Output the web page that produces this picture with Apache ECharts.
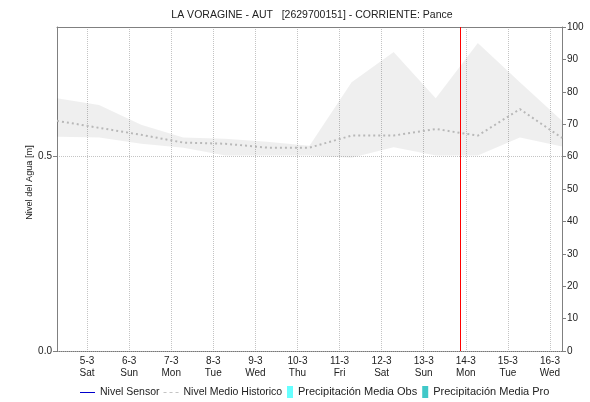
<!DOCTYPE html>
<html><head><meta charset="utf-8">
<script src="https://cdn.jsdelivr.net/npm/echarts@6/dist/echarts.min.js"></script>
<style>html,body{margin:0;padding:0;background:#fff}#c{width:590px;height:402px}</style>
</head><body><div id="c"></div>
<script>
// x ticks: one per day, value = days since 5-3 00:00
const tickLabels = ['5-3\nSat','6-3\nSun','7-3\nMon','8-3\nTue','9-3\nWed','10-3\nThu','11-3\nFri','12-3\nSat','13-3\nSun','14-3\nMon','15-3\nTue','16-3\nWed'];
// sample times of the historic series, in days since 5-3 00:00
const sampleDays = [-0.714, 0.286, 1.286, 2.286, 3.286, 4.286, 5.286, 6.286, 7.286, 8.286, 9.286, 10.286, 11.286];
const histMax  = [0.650, 0.633, 0.582, 0.549, 0.546, 0.538, 0.528, 0.691, 0.769, 0.650, 0.792, 0.691, 0.592];
const histMin  = [0.551, 0.549, 0.533, 0.523, 0.503, 0.503, 0.503, 0.497, 0.524, 0.503, 0.503, 0.549, 0.526];
const histMean = [0.592, 0.574, 0.556, 0.536, 0.533, 0.523, 0.523, 0.554, 0.554, 0.571, 0.554, 0.622, 0.548];
const nowDay = 8.881;
const sensorLevel = [];
const precipObs = [];
const precipPro = [];
const axisMin = -0.714, axisMax = 11.286;

const pairs = (ys) => sampleDays.map((d, i) => [d, ys[i]]);
const bandRows = sampleDays.map((d, i) => [d, histMin[i], histMax[i]]);
const FONT = 'Liberation Sans';

const chart = echarts.init(document.getElementById('c'));
chart.setOption({
  animation: false,
  textStyle: { fontFamily: FONT },
  title: {
    text: 'LA VORAGINE - AUT   [2629700151] - CORRIENTE: Pance',
    left: 307, top: 5, textAlign: 'center',
    textStyle: { fontFamily: FONT, fontSize: 10.5, fontWeight: 'normal', color: '#222' }
  },
  legend: [
    {
      left: 80, top: 387, padding: 0, itemWidth: 15, itemHeight: 10, itemGap: 4,
      data: [
        { name: 'Nivel Sensor', icon: 'path://M0,4.5h15v1h-15z' },
        { name: 'Nivel Medio Historico', icon: 'path://M0,4.5h3v1h-3zM6,4.5h3v1h-3zM12,4.5h3v1h-3z' }
      ],
      textStyle: { fontFamily: FONT, fontSize: 10.5, color: '#222' }
    },
    {
      left: 287, top: 386, padding: 0, itemWidth: 6, itemHeight: 12, itemGap: 5,
      icon: 'rect',
      data: ['Precipitación Media Obs', 'Precipitación Media Pro'],
      textStyle: { fontFamily: FONT, fontSize: 11, color: '#222' }
    }
  ],
  grid: { left: 57, right: 28, top: 27, bottom: 51, containLabel: false, outerBoundsMode: 'none' },
  xAxis: [
    {
      type: 'value', min: axisMin, max: axisMax, splitNumber: 12, minInterval: 1, maxInterval: 1,
      axisLine: { show: true, onZero: false, lineStyle: { color: '#777', type: 'dotted', width: 1 } },
      axisTick: { show: false },
      splitLine: { show: true, lineStyle: { color: '#c4c4c4', type: 'dotted', width: 1 } },
      axisLabel: {
        showMinLabel: false, showMaxLabel: false, margin: 4, lineHeight: 12,
        fontFamily: FONT, fontSize: 10, color: '#222',
        formatter: (v) => {
          const r = Math.round(v);
          return Math.abs(v - r) < 1e-6 && tickLabels[r] !== undefined ? tickLabels[r] : '';
        }
      }
    },
    {
      type: 'value', position: 'top', min: axisMin, max: axisMax,
      axisLine: { show: true, onZero: false, lineStyle: { color: '#808080', width: 1 } },
      axisTick: { show: false }, axisLabel: { show: false }, splitLine: { show: false }
    }
  ],
  yAxis: [
    {
      type: 'value', min: 0, max: 0.8333, interval: 0.5,
      name: 'Nivel del Agua [m]', nameLocation: 'middle', nameGap: 23, nameRotate: 90,
      nameMoveOverlap: false,
      nameTextStyle: { fontFamily: FONT, fontSize: 9.2, color: '#222', padding: [0, 0, 0, 13] },
      axisLine: { show: true, onZero: false, lineStyle: { color: '#808080' } },
      axisTick: { show: true, length: 4, lineStyle: { color: '#808080' } },
      splitLine: { show: true, lineStyle: { color: '#c4c4c4', type: 'dotted' } },
      axisLabel: {
        showMaxLabel: false, margin: 5, fontFamily: FONT, fontSize: 10, color: '#222',
        formatter: (v) => v.toFixed(1)
      }
    },
    {
      type: 'value', min: 0, max: 100, interval: 10, position: 'right',
      name: 'Precipitación [mm]', nameLocation: 'middle', nameGap: 28, nameRotate: -90,
      nameMoveOverlap: false,
      nameTextStyle: { fontFamily: FONT, fontSize: 10, color: '#222' },
      axisLine: { show: true, onZero: false, lineStyle: { color: '#808080' } },
      axisTick: { show: true, length: 4, lineStyle: { color: '#808080' } },
      splitLine: { show: false },
      axisLabel: { margin: 5, fontFamily: FONT, fontSize: 10, color: '#222' }
    }
  ],
  series: [
    {
      name: 'bandHist', type: 'custom', data: bandRows, silent: true, clip: true, z: 1,
      encode: { x: 0, y: [1, 2] },
      renderItem: (params, api) => {
        if (params.dataIndex !== 0) return null;
        const top = bandRows.map(r => api.coord([r[0], r[2]]));
        const bot = bandRows.map(r => api.coord([r[0], r[1]])).reverse();
        return {
          type: 'polygon',
          shape: { points: top.concat(bot) },
          style: { fill: 'rgba(0,0,0,0.062)', stroke: null }
        };
      }
    },
    {
      name: 'Nivel Sensor', type: 'line', data: sensorLevel, symbol: 'none',
      itemStyle: { color: '#0000cc' }, lineStyle: { color: '#0000cc', width: 1 }
    },
    {
      name: 'Nivel Medio Historico', type: 'line', data: pairs(histMean), symbol: 'none',
      itemStyle: { color: '#c4c4c4' },
      lineStyle: { color: '#b8b8b8', width: 2, type: [2, 3] }, z: 3,
      markLine: {
        silent: true, symbol: 'none', animation: false,
        label: { show: false },
        lineStyle: { color: '#ff0000', width: 1, type: 'solid' },
        data: [{ xAxis: nowDay }]
      }
    },
    {
      name: 'Precipitación Media Obs', type: 'bar', yAxisIndex: 1, data: precipObs,
      itemStyle: { color: '#66ffff' }
    },
    {
      name: 'Precipitación Media Pro', type: 'bar', yAxisIndex: 1, data: precipPro,
      itemStyle: { color: '#40c8c8' }
    }
  ]
});
</script></body></html>
